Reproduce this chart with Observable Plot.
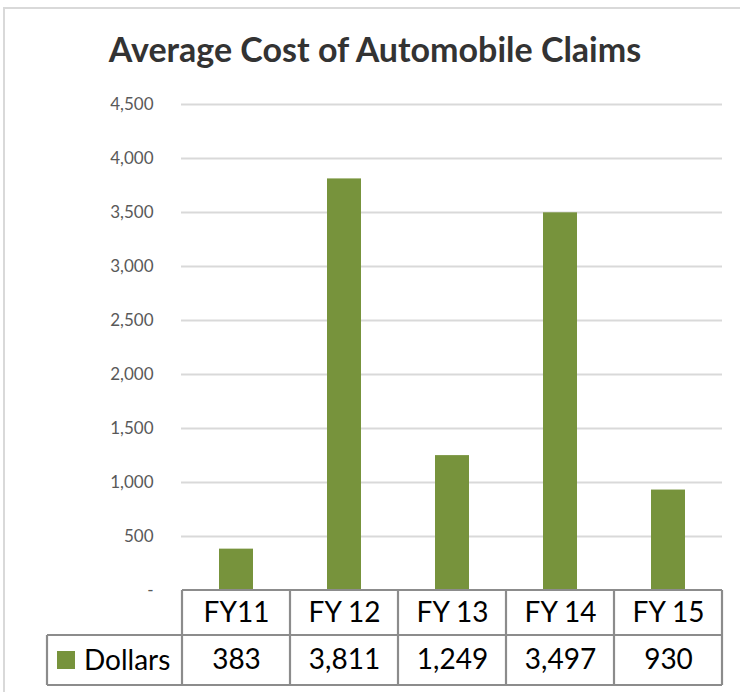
<!DOCTYPE html>
<html>
<head>
<meta charset="utf-8">
<script src="https://cdn.jsdelivr.net/npm/d3@7"></script>
<script src="https://cdn.jsdelivr.net/npm/@observablehq/plot@0.6"></script>
<style>
  body { margin: 0; background: #fff; }
  #wrap { position: relative; width: 740px; height: 692px; overflow: hidden; background: #fff; font-family: Lato, "Noto Sans", sans-serif; }
  #frame { position: absolute; left: 3px; top: 7px; width: 900px; height: 900px; border-left: 2px solid #d9d9d9; border-top: 2px solid #d9d9d9; box-sizing: border-box; }
  #title { position: relative; height: 80px; box-sizing: border-box; padding-top: 29px; padding-left: 10px; text-align: center; font-size: 34px; font-weight: bold; color: #333; line-height: 40px; }
  #chart { position: relative; }
</style>
</head>
<body>
<div id="wrap">
  <div id="frame"></div>
  <div id="title">Average Cost of Automobile Claims</div>
  <div id="chart"></div>
</div>
<script>
const categories = ["FY11", "FY 12", "FY 13", "FY 14", "FY 15"];
const dollars = [383, 3811, 1249, 3497, 930];
const seriesName = "Dollars";
const yTicks = [0, 500, 1000, 1500, 2000, 2500, 3000, 3500, 4000, 4500];

const data = categories.map((c, i) => ({cat: c, value: dollars[i]}));
const fmt = d3.format(",");
const barColor = "#77933C";
const lineColor = "#8c8c8c";
const ROW1 = 45, ROW2 = 50;
const tableFont = 28;

function tableFrame(index, scales, values, dims) {
  const x = scales.x;
  const step = x(categories[1]) - x(categories[0]);
  const left = x(categories[0]);
  const right = x(categories[categories.length - 1]) + step;
  const y0 = dims.height - dims.marginBottom;
  const y1 = y0 + ROW1, y2 = y1 + ROW2;
  const legendLeft = 47;
  const g = d3.create("svg:g");
  const lines = g.append("g").attr("stroke", lineColor).attr("stroke-width", 2.2).attr("fill", "none");
  lines.append("line").attr("x1", left).attr("x2", right).attr("y1", y0).attr("y2", y0);
  lines.append("line").attr("x1", legendLeft).attr("x2", right).attr("y1", y1).attr("y2", y1);
  lines.append("line").attr("x1", legendLeft).attr("x2", right).attr("y1", y2).attr("y2", y2);
  lines.append("line").attr("x1", legendLeft).attr("x2", legendLeft).attr("y1", y1).attr("y2", y2);
  for (let i = 0; i <= categories.length; i++) {
    const xx = left + i * step;
    lines.append("line").attr("x1", xx).attr("x2", xx).attr("y1", y0).attr("y2", y2);
  }
  g.append("rect").attr("x", 57).attr("y", y1 + ROW2 / 2 - 9).attr("width", 18).attr("height", 18).attr("fill", barColor);
  g.append("text").attr("x", 84).attr("y", y1 + ROW2 / 2).attr("dy", "0.35em")
    .attr("text-anchor", "start")
    .attr("font-size", tableFont).attr("fill", "#000").text(seriesName);
  return g.node();
}

const chart = Plot.plot({
  width: 740,
  height: 612,
  marginTop: 24,
  marginBottom: 102,
  marginLeft: 181,
  marginRight: 18,
  style: {fontFamily: "Lato, 'Noto Sans', sans-serif", background: "transparent", overflow: "visible"},
  x: {type: "band", domain: categories, padding: 0, axis: null, label: null},
  y: {domain: [0, 4500], axis: null, label: null},
  marks: [
    Plot.ruleY(yTicks.filter(d => d > 0), {stroke: "#d9d9d9", strokeWidth: 2.2}),
    Plot.barY(data, {x: "cat", y: "value", fill: barColor, insetLeft: 37, insetRight: 37}),
    Plot.axisY({ticks: yTicks, tickFormat: d => d === 0 ? "-" : fmt(d), tickSize: 0, tickPadding: 28, fontSize: 17, fill: "#595959", label: null}),
    Plot.axisX({tickSize: 0, tickPadding: 12, fontSize: tableFont, fill: "#000", label: null}),
    Plot.text(data, {x: "cat", text: d => fmt(d.value), frameAnchor: "bottom", lineAnchor: "middle", dy: ROW1 + ROW2 / 2, fontSize: tableFont, fill: "#000"}),
    tableFrame
  ]
});
document.getElementById("chart").appendChild(chart);
</script>
</body>
</html>
